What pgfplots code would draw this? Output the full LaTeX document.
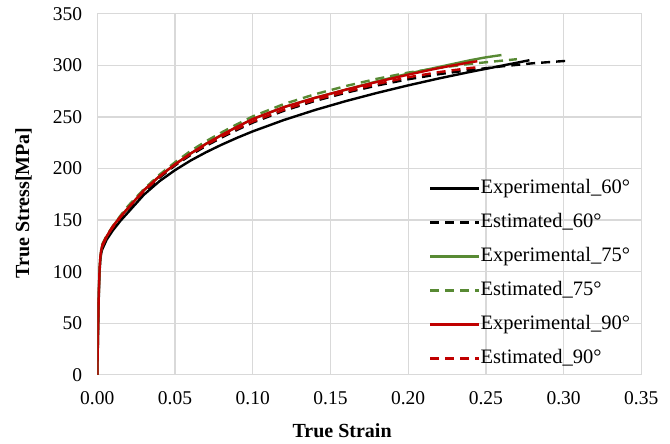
\documentclass[border=0pt]{standalone}
\usepackage{fontspec}
\setmainfont{Liberation Serif}
\usepackage{pgfplots}
\pgfplotsset{compat=1.18}
\definecolor{gridgray}{RGB}{217,217,217}
\definecolor{exgreen}{RGB}{88,138,52}
\definecolor{exred}{RGB}{192,0,0}
\begin{document}
\begin{tikzpicture}
\begin{axis}[
  scale only axis, width=544bp, height=361bp,
  xmin=0, xmax=0.35, ymin=0, ymax=350,
  xtick={0,0.05,0.10,0.15,0.20,0.25,0.30,0.35},
  ytick={0,50,100,150,200,250,300,350},
  /pgf/number format/assume math mode=true,
  xticklabel style={/pgf/number format/fixed,/pgf/number format/fixed zerofill,/pgf/number format/precision=2, yshift=-17bp, inner sep=0pt},
  yticklabel style={xshift=-15bp, inner sep=0pt},
  ticklabel style={font=\fontsize{19.5bp}{23bp}\selectfont},
  scaled x ticks=false,
  major tick length=0pt,
  grid=major,
  grid style={gridgray, line width=1.3bp},
  axis line style={gridgray, line width=1.3bp},
  xlabel={\textbf{True Strain}},
  ylabel={\textbf{True Stress[MPa]}},
  label style={font=\fontsize{20bp}{24bp}\selectfont},
  xlabel style={at={(axis description cs:0.45,0)}, anchor=center, yshift=-56bp},
  ylabel style={at={(axis description cs:0,0.476)}, anchor=center, yshift=73.7bp},
  legend cell align=left,
  legend style={draw=none, fill=none, at={(axis description cs:0.6097,0.542)}, anchor=north west,
    font=\fontsize{20.5bp}{24bp}\selectfont, inner sep=0pt, row sep=16bp,
    nodes={inner sep=0pt, text height=14bp, text depth=4bp}},
  legend image code/.code={\draw[#1] (0bp,0bp) -- (49bp,0bp);},
  every axis plot/.append style={line width=2.4bp},
]
% Experimental 60
\addplot[black] coordinates {
(0,0) (0.0005,40) (0.001,78) (0.0015,101) (0.002,112) (0.0025,117.5) (0.003,121)
(0.006,131) (0.01,140) (0.015,149.5) (0.02,157.8) (0.03,174.6) (0.04,187.7)
(0.05,198.4) (0.06,207.7) (0.07,215.8) (0.08,223.1) (0.09,229.8) (0.10,236.0)
(0.12,247.0) (0.14,256.7) (0.16,265.4) (0.18,273.3) (0.20,280.6) (0.22,287.4)
(0.24,293.7) (0.26,299.6) (0.278,305)};
\addlegendentry{Experimental\_60°}
% Estimated 60
\addplot[black, dash pattern=on 9bp off 6bp] coordinates {
(0.003,124) (0.006,134) (0.01,142) (0.015,152) (0.02,161) (0.03,177) (0.04,191)
(0.05,203) (0.06,213) (0.07,222) (0.08,230) (0.09,237.5) (0.10,244.5) (0.12,256)
(0.14,265.5) (0.16,273.5) (0.18,280.5) (0.20,286.5) (0.22,291.5) (0.24,295.5)
(0.26,299) (0.28,302) (0.303,304.5)};
\addlegendentry{Estimated\_60°}
% Experimental 75
\addplot[exgreen] coordinates {
(0,0) (0.0005,45) (0.001,82) (0.0015,104) (0.002,115) (0.0025,120.5) (0.003,124)
(0.006,134) (0.01,144) (0.015,153.5) (0.02,162) (0.03,179) (0.04,192.5) (0.05,204)
(0.06,214.5) (0.07,224) (0.08,232.5) (0.09,240.5) (0.10,248) (0.12,259.5)
(0.14,268.5) (0.16,276.5) (0.18,284.5) (0.20,292) (0.22,298.5) (0.24,305)
(0.25,307.8) (0.26,310)};
\addlegendentry{Experimental\_75°}
% Estimated 75
\addplot[exgreen, dash pattern=on 9bp off 6bp] coordinates {
(0.003,126) (0.006,135) (0.01,144) (0.015,154.5) (0.02,164) (0.03,180) (0.04,194)
(0.05,206) (0.06,217) (0.07,226.5) (0.08,235) (0.09,243) (0.10,250.5) (0.12,262.5)
(0.14,272) (0.16,280) (0.18,287) (0.20,293) (0.22,297.5) (0.24,301.5) (0.26,304.5)
(0.27,306)};
\addlegendentry{Estimated\_75°}
% Experimental 90
\addplot[exred] coordinates {
(0,0) (0.0005,45) (0.001,82) (0.0015,104) (0.002,115) (0.0025,120.5) (0.003,124)
(0.006,134) (0.01,144) (0.015,153.5) (0.02,162) (0.03,179) (0.04,192.5) (0.05,204)
(0.06,214.5) (0.07,224) (0.08,232.5) (0.09,240.5) (0.10,248) (0.12,259.5)
(0.14,268.5) (0.16,276.5) (0.18,284) (0.20,291) (0.22,297.5) (0.24,303) (0.2445,304)};
\addlegendentry{Experimental\_90°}
% Estimated 90
\addplot[exred, dash pattern=on 9bp off 6bp] coordinates {
(0.003,125) (0.006,134.5) (0.01,143) (0.015,153) (0.02,162) (0.03,178) (0.04,192)
(0.05,204) (0.06,214) (0.07,223) (0.08,231) (0.09,238.5) (0.10,245.5) (0.12,257)
(0.14,266.5) (0.16,274.5) (0.18,282) (0.20,288.5) (0.22,293.5) (0.24,297.5)
(0.247,298.5)};
\addlegendentry{Estimated\_90°}
\end{axis}
\pgfresetboundingbox
\path (-97.3bp,-69bp) rectangle (572.7bp,374.8bp);
\end{tikzpicture}
\end{document}
